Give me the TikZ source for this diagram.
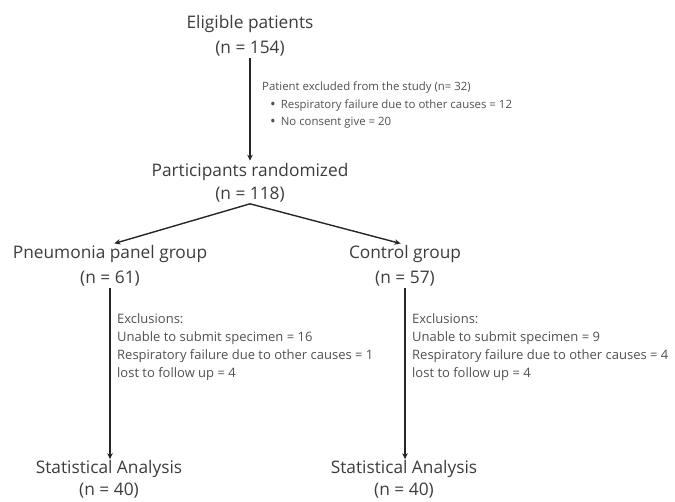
\documentclass[tikz,border=0pt]{standalone}
\usepackage{fontspec}
\setmainfont{Open Sans}
\usetikzlibrary{arrows.meta}
\definecolor{maintxt}{HTML}{3C3C3C}
\definecolor{smalltxt}{HTML}{505050}
\newcommand{\mybul}{{\fontsize{15}{15}\selectfont\raisebox{-0.6pt}{\textbullet}}}
\begin{document}
\begin{tikzpicture}[x=1pt,y=-1pt,
  title/.style={font=\fontsize{17.3}{19}\selectfont, text=maintxt, inner sep=1pt},
  topnote/.style={font=\fontsize{11.4}{17.5}\selectfont, text=smalltxt, align=left, inner sep=0pt, anchor=north west},
  note/.style={font=\fontsize{13}{18}\selectfont, text=smalltxt, align=left, inner sep=0pt, anchor=north west},
  conn/.style={line width=1.4pt, draw=black!85, -{Stealth[length=6pt,width=5.5pt]}}]
\useasboundingbox (0,0) rectangle (675,502);
\node[title] (e1) at (250,24) {Eligible patients};
\node[title] (e2) at (250,49) {(n = 154)};
\node[title] (r1) at (250,172) {Participants randomized};
\node[title] (r2) at (250,195) {(n = 118)};
\node[title] (p1) at (110,254) {Pneumonia panel group};
\node[title] (p2) at (110,279) {(n = 61)};
\node[title] (c1) at (405,254) {Control group};
\node[title] (c2) at (405,279) {(n = 57)};
\node[title] (s1) at (109,469) {Statistical Analysis};
\node[title] (s2) at (109,491) {(n = 40)};
\node[title] (t1) at (404,469) {Statistical Analysis};
\node[title] (t2) at (404,491) {(n = 40)};
\node[topnote] (x0) at (262,82) {Patient excluded from the study (n= 32)\\
\hspace*{8pt}\mybul\hspace{5pt}Respiratory failure due to other causes = 12\\
\hspace*{8pt}\mybul\hspace{5pt}No consent give = 20};
\node[note] (x1) at (117,313) {Exclusions:\\Unable to submit specimen = 16\\Respiratory failure due to other causes = 1\\lost to follow up = 4};
\node[note] (x2) at (412,313) {Exclusions:\\Unable to submit specimen = 9\\Respiratory failure due to other causes = 4\\lost to follow up = 4};
\draw[conn, shorten >=1.5pt] (e2.south) -- (r1.north);
\draw[conn, shorten >=2.5pt] (r2.south) -- ([xshift=2pt]p1.north);
\draw[conn, shorten >=2.5pt] (r2.south) -- ([xshift=-2pt]c1.north);
\draw[conn] (p2.south) -- (p2.south |- s1.north);
\draw[conn] (c2.south) -- (c2.south |- t1.north);
\end{tikzpicture}
\end{document}
